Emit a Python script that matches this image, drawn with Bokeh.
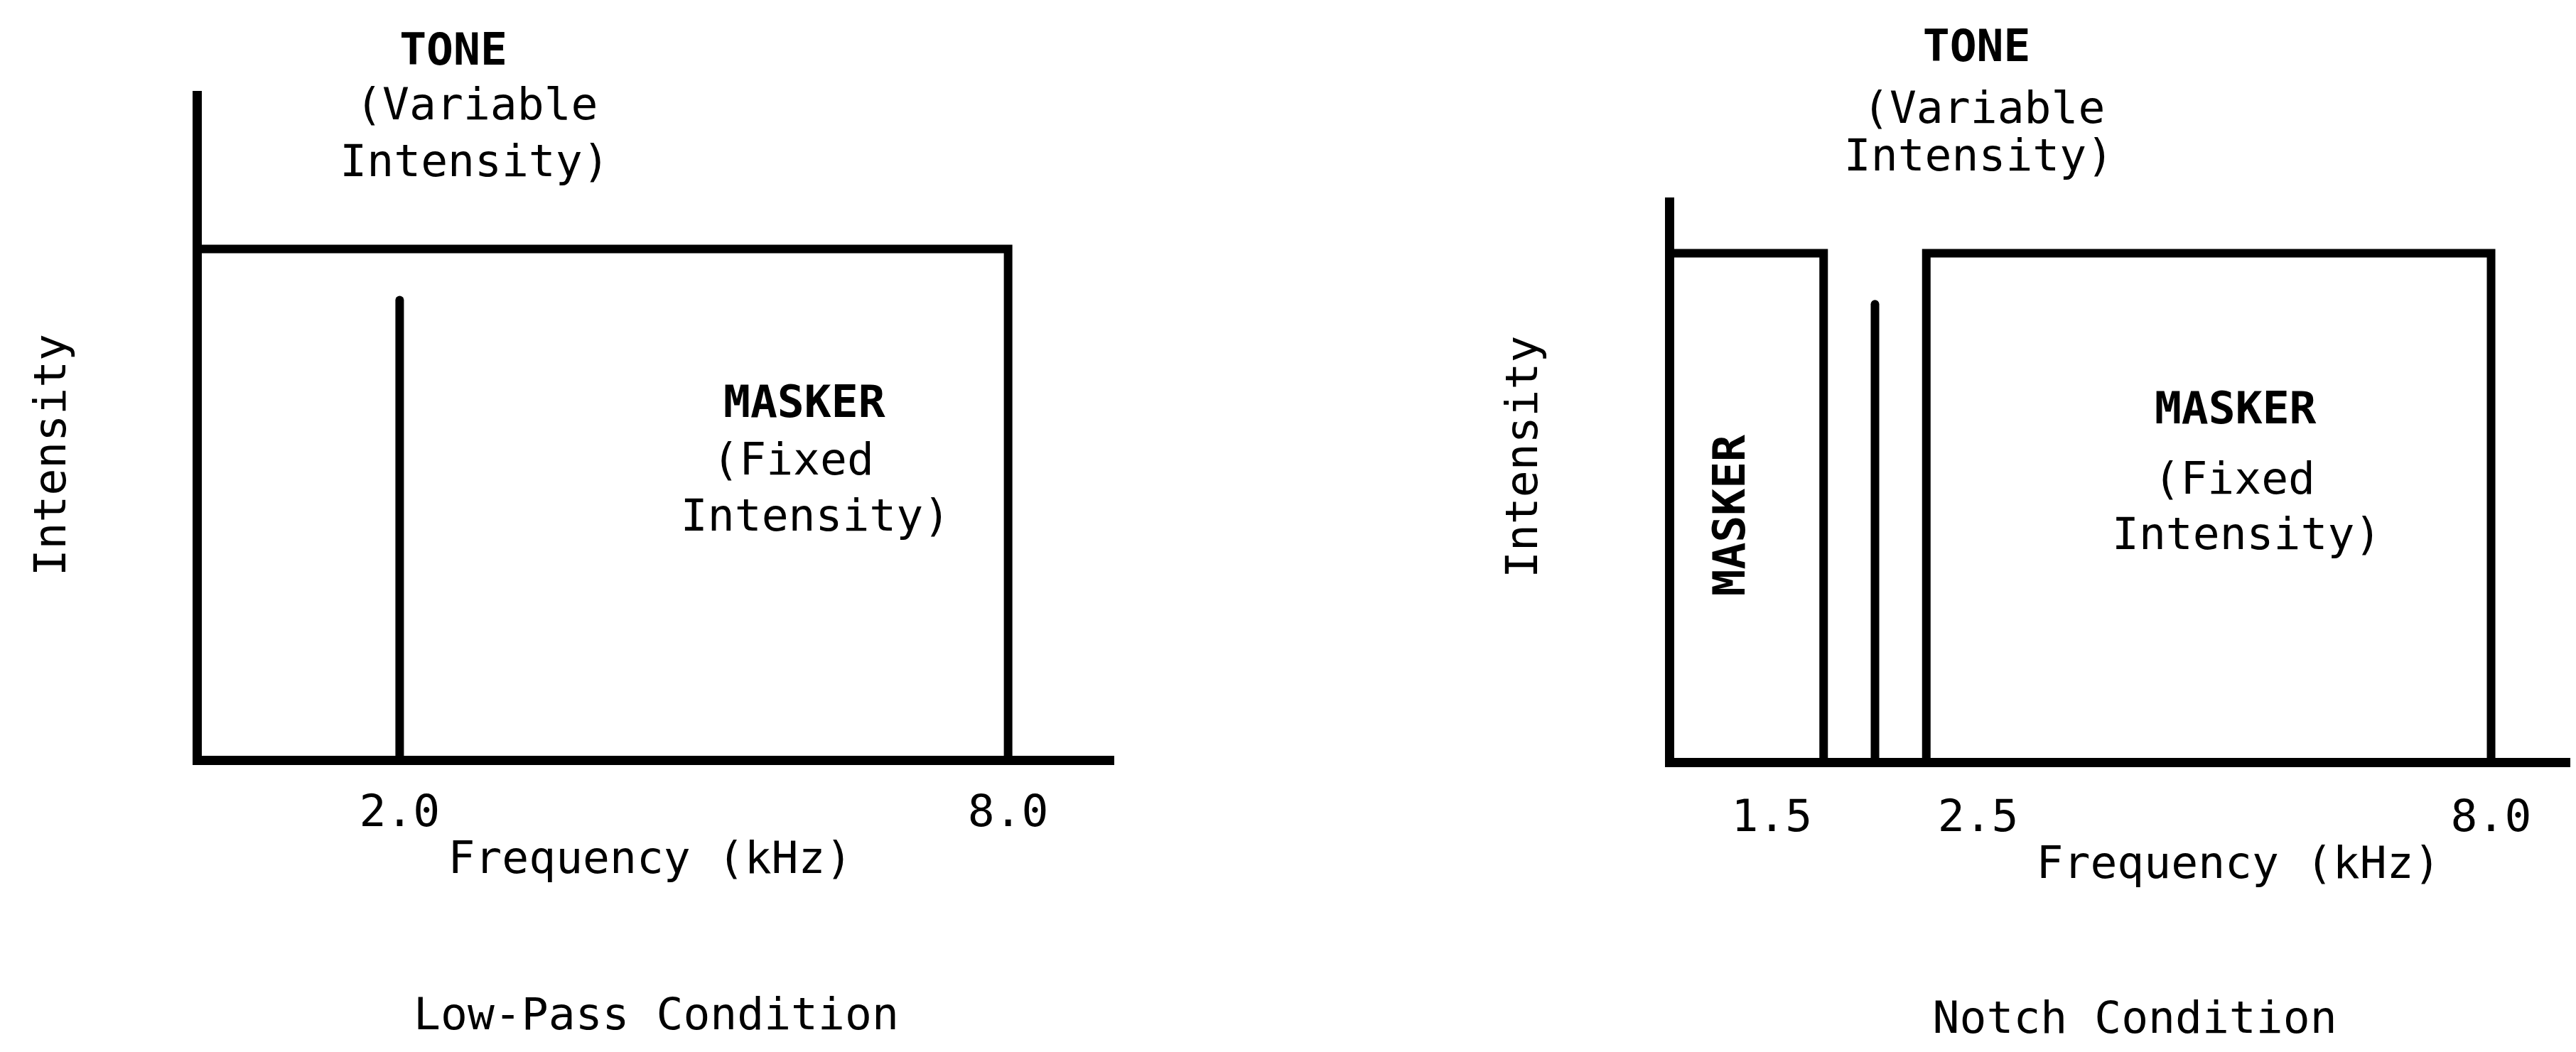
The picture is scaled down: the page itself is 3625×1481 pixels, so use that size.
import math
from bokeh.plotting import figure
from bokeh.layouts import row
from bokeh.models import FixedTicker, Range1d
from bokeh.core.properties import value
from bokeh.embed import file_html
from bokeh.resources import INLINE

# ---------------- data ----------------
tone_freq = 2.0          # kHz
tone_level = 0.9         # relative intensity (variable)
masker_level = 1.0       # relative intensity (fixed)

lp_band_lo = [0.0]       # low-pass masker band edges (kHz)
lp_band_hi = [8.0]
notch_band_lo = [0.0, 2.5]   # notch masker band edges (kHz)
notch_band_hi = [1.5, 8.0]

lp_ticks = [2.0, 8.0]
lp_tick_labels = ["2.0", "8.0"]
notch_ticks = [1.5, 2.5, 8.0]
notch_tick_labels = ["1.5", "2.5", "8.0"]

freq_axis_end = 9.0
lp_int_axis_top = 1.3
notch_int_axis_top = 1.1

FONT = value("DejaVu Sans Mono")
FS = value("63px")
LW = 12
H = 1481


def make_panel(width, xr, yr, lo, hi, int_top, ticks, tick_labels, tick_aligns,
               tick_offsets, tick_y, texts):
    p = figure(width=width, height=H, x_range=Range1d(*xr), y_range=Range1d(*yr),
               output_backend="svg", toolbar_location=None,
               min_border=0, min_border_left=0, min_border_right=0,
               min_border_top=0, min_border_bottom=0)
    p.grid.visible = False
    p.outline_line_color = None
    p.background_fill_color = "white"
    p.border_fill_color = "white"
    for ax, loc, bnds in ((p.xaxis, 0, (0, freq_axis_end)), (p.yaxis, 0, (0, int_top))):
        ax.fixed_location = loc
        ax.bounds = bnds
        ax.ticker = FixedTicker(ticks=[])
        ax.major_tick_line_color = None
        ax.minor_tick_line_color = None
        ax.major_label_text_font_size = "0px"
        ax.axis_line_width = 13
        ax.axis_line_color = "black"
        ax.axis_line_cap = "square"

    # masker outlines
    xs = [[a, a, b, b] for a, b in zip(lo, hi)]
    ys = [[0, masker_level, masker_level, 0] for _ in lo]
    p.multi_line(xs=xs, ys=ys, line_color="black", line_width=LW, line_join="miter")
    # tone
    p.segment(x0=[tone_freq], y0=[0], x1=[tone_freq], y1=[tone_level],
              line_color="black", line_width=LW, line_cap="round")

    # tick labels
    p.text(x=ticks, y=[tick_y] * len(ticks), text=tick_labels, text_align=tick_aligns,
           x_offset=tick_offsets, text_baseline="middle", text_font=FONT,
           text_font_size=FS, text_color="black")

    for (tx, ty, t, bold, ang) in texts:
        p.text(x=[tx], y=[ty], text=[t], text_align="center", text_baseline="middle",
               text_font=FONT, text_font_size=FS, text_color="black",
               text_font_style="bold" if bold else "normal", angle=ang)
    return p


lp_texts = [
    (2.53, 1.390, "TONE", True, 0),
    (2.76, 1.283, "(Variable", False, 0),
    (2.74, 1.172, "Intensity)", False, 0),
    (5.99, 0.701, "MASKER", True, 0),
    (5.88, 0.589, "(Fixed", False, 0),
    (6.10, 0.479, "Intensity)", False, 0),
    (-1.45, 0.597, "Intensity", False, math.pi / 2),
    (4.47, -0.190, "Frequency (kHz)", False, 0),
    (4.53, -0.496, "Low-Pass Condition", False, 0),
]

notch_texts = [
    (2.99, 1.407, "TONE", True, 0),
    (3.06, 1.286, "(Variable", False, 0),
    (3.01, 1.192, "Intensity)", False, 0),
    (5.51, 0.696, "MASKER", True, 0),
    (5.50, 0.558, "(Fixed", False, 0),
    (5.62, 0.449, "Intensity)", False, 0),
    (0.58, 0.485, "MASKER", True, math.pi / 2),
    (-1.44, 0.600, "Intensity", False, math.pi / 2),
    (5.54, -0.197, "Frequency (kHz)", False, 0),
    (4.53, -0.500, "Notch Condition", False, 0),
]

p1 = make_panel(1805, (-1.9376, 10.711), (-0.5708, 1.4861), lp_band_lo, lp_band_hi,
                lp_int_axis_top, lp_ticks, lp_tick_labels, ["center", "center"], [0, 0],
                -0.096, lp_texts)
p2 = make_panel(1812, (-3.7647, 8.775), (-0.5690, 1.4965), notch_band_lo, notch_band_hi,
                notch_int_axis_top, notch_ticks, notch_tick_labels,
                ["right", "left", "center"], [-16, 16, 0], -0.102, notch_texts)

layout = row(p1, p2)
open("out.html", "w").write(file_html(layout, INLINE))
